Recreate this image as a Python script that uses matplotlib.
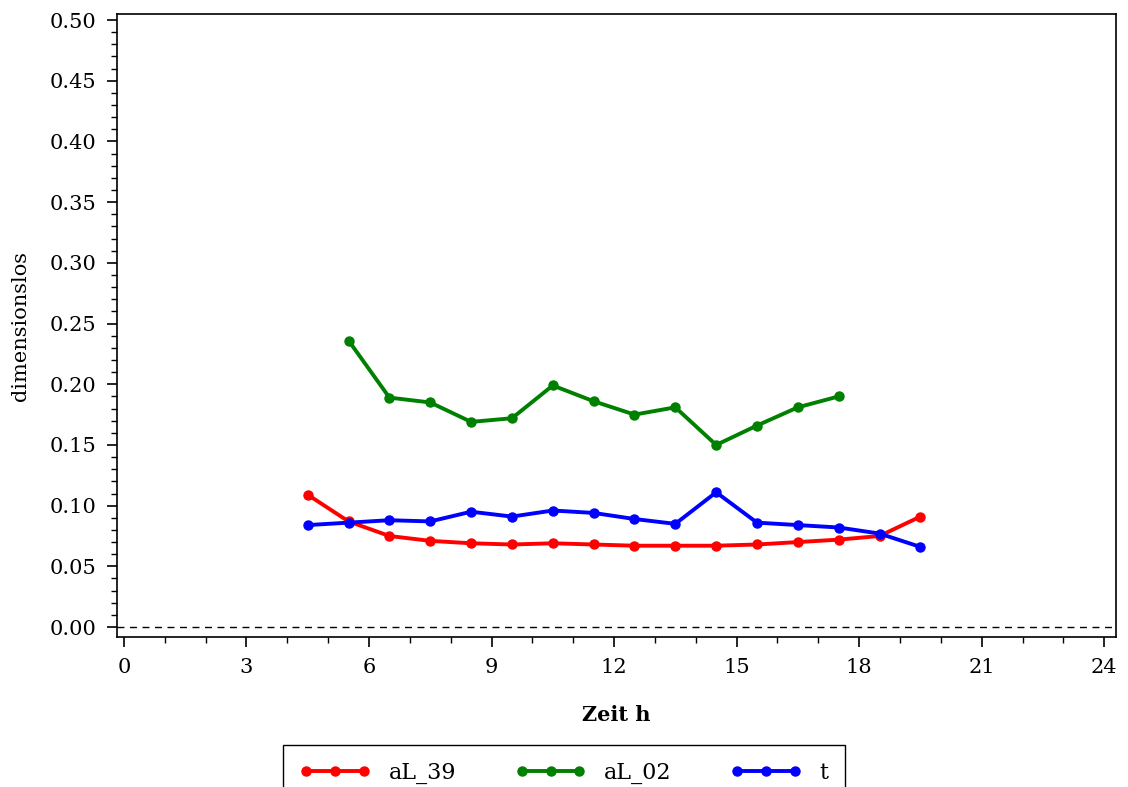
import matplotlib.pyplot as plt
from matplotlib.ticker import MultipleLocator

# hourly values, points sit at the half hour
hours_al39 = [4.5, 5.5, 6.5, 7.5, 8.5, 9.5, 10.5, 11.5, 12.5, 13.5, 14.5, 15.5, 16.5, 17.5, 18.5, 19.5]
al39 = [0.109, 0.087, 0.075, 0.071, 0.069, 0.068, 0.069, 0.068, 0.067, 0.067, 0.067, 0.068, 0.070, 0.072, 0.075, 0.091]

hours_al02 = [5.5, 6.5, 7.5, 8.5, 9.5, 10.5, 11.5, 12.5, 13.5, 14.5, 15.5, 16.5, 17.5]
al02 = [0.236, 0.189, 0.185, 0.169, 0.172, 0.199, 0.186, 0.175, 0.181, 0.150, 0.166, 0.181, 0.190]

hours_t = [4.5, 5.5, 6.5, 7.5, 8.5, 9.5, 10.5, 11.5, 12.5, 13.5, 14.5, 15.5, 16.5, 17.5, 18.5, 19.5]
t = [0.084, 0.086, 0.088, 0.087, 0.095, 0.091, 0.096, 0.094, 0.089, 0.085, 0.111, 0.086, 0.084, 0.082, 0.077, 0.066]

xticks = [0, 3, 6, 9, 12, 15, 18, 21, 24]
yticks = [0.00, 0.05, 0.10, 0.15, 0.20, 0.25, 0.30, 0.35, 0.40, 0.45, 0.50]

plt.rcParams["font.family"] = ["DejaVu Serif"]
plt.rcParams["font.size"] = 14

fig = plt.figure(figsize=(11.28, 7.87), dpi=100)
ax = fig.add_axes([0.1037, 0.1906, 0.8857, 0.7916])

style = dict(marker="o", markersize=6.5, linewidth=2.8)
ax.plot(hours_al39, al39, color="#ff0000", label="aL_39", **style)
ax.plot(hours_al02, al02, color="#008000", label="aL_02", **style)
ax.plot(hours_t, t, color="#0000ff", label="t", **style)

# reference line at zero
ax.axhline(0, color="black", linestyle=(0, (5, 4)), linewidth=1)

ax.set_xlim(-0.17, 24.29)
ax.set_ylim(-0.0082, 0.505)
ax.set_xticks(xticks)
ax.set_yticks(yticks)
ax.set_yticklabels([f"{v:.2f}" for v in yticks])
ax.xaxis.set_minor_locator(MultipleLocator(1))
ax.yaxis.set_minor_locator(MultipleLocator(0.01))
ax.tick_params(axis="both", which="major", length=7, width=1.2, direction="out", labelsize=15, pad=8)
ax.tick_params(axis="both", which="minor", length=4, width=1, direction="out")
for s in ax.spines.values():
    s.set_linewidth(1.2)

ax.set_xlabel("Zeit h", fontsize=15, fontweight="bold", labelpad=20)
ax.set_ylabel("dimensionslos", fontsize=15, labelpad=14)

fig.legend(loc="upper left", bbox_to_anchor=(0.2509, 0.0534), ncol=3,
           numpoints=3, fancybox=False, edgecolor="black", framealpha=1,
           fontsize=16, handlelength=3.2, columnspacing=2.65, borderpad=0.75,
           handletextpad=0.8, borderaxespad=0)

fig.savefig("out.png", dpi=100)
